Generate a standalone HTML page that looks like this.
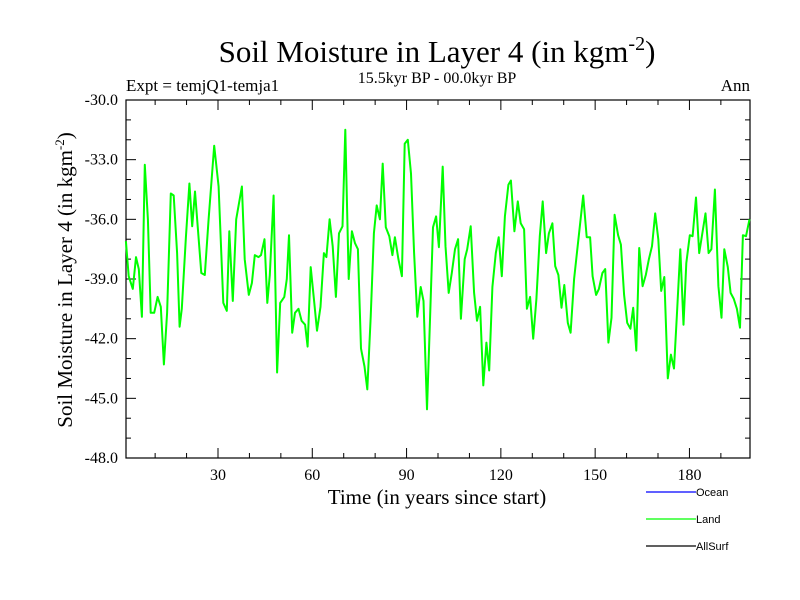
<!DOCTYPE html>
<html><head><meta charset="utf-8"><style>
body{margin:0;background:#fff}
svg{display:block}
text{font-family:"Liberation Serif",serif;fill:#000}
.lg{font-family:"Liberation Sans",sans-serif;font-size:11px}
</style></head><body>
<svg id="chart" width="800" height="600" viewBox="0 0 800 600">
<text x="437" y="62" font-size="31" text-anchor="middle">Soil Moisture in Layer 4 (in kgm<tspan font-size="20" dy="-12">-2</tspan><tspan dy="12">)</tspan></text>
<text x="437" y="83" font-size="16" text-anchor="middle">15.5kyr BP - 00.0kyr BP</text>
<text x="126" y="91" font-size="17">Expt = temjQ1-temja1</text>
<text x="750" y="91" font-size="17" text-anchor="end">Ann</text>
<text transform="translate(72,280) rotate(-90)" font-size="21" text-anchor="middle">Soil Moisture in Layer 4 (in kgm<tspan font-size="13" dy="-8">-2</tspan><tspan dy="8">)</tspan></text>
<text x="437" y="504" font-size="21" text-anchor="middle">Time (in years since start)</text>
<g id="axes"></g>
<g id="series"></g>
<g>
<line x1="646" y1="492" x2="696" y2="492" stroke="#0000ff" stroke-width="1.2"/>
<text class="lg" x="696" y="496">Ocean</text>
<line x1="646" y1="519" x2="696" y2="519" stroke="#00ff00" stroke-width="1.2"/>
<text class="lg" x="696" y="523">Land</text>
<line x1="646" y1="546" x2="696" y2="546" stroke="#000" stroke-width="1.2"/>
<text class="lg" x="696" y="550">AllSurf</text>
</g>
</svg>
<script>
const years = [0.7,1.6,2.9,3.9,4.8,5.8,6.7,7.7,8.6,9.7,10.8,11.8,12.8,13.8,15,15.9,17,17.8,18.5,19.8,20.9,21.8,22.7,24.7,25.8,27,28.8,30.2,31.7,32.8,33.6,34.7,35.8,37.6,38.5,39.8,40.8,41.7,42.9,43.7,44.8,45.7,46.5,47.7,48.8,49.8,51.1,51.9,52.6,53.6,54.5,55.6,56.6,57.7,58.5,59.5,60.5,61.5,62.6,63.7,64.5,65.5,66.5,67.5,68.5,69.6,70.5,71.6,72.6,73.6,74.5,75.5,76.6,77.5,78.6,79.6,80.5,81.5,82.4,83.4,84.5,85.5,86.3,87.4,88.5,89.4,90.4,91.4,92.4,93.4,94.5,95.4,96.5,97.5,98.4,99.4,100.3,101.5,102.4,103.4,104.4,105.4,106.4,107.3,108.5,109.3,110.4,111.5,112.4,113.4,114.4,115.4,116.3,117.3,118.4,119.3,120.3,121.3,122.4,123.2,124.3,125.4,126.3,127.4,128.3,129.3,130.3,131.3,132.4,133.3,134.4,135.3,136.4,137.3,138.3,139.3,140.2,141.3,142.2,143.3,144.2,146.2,147.3,148.4,149.2,150.3,151.2,152.3,153.2,154.2,155.2,156.2,157.3,158.2,159.2,160.2,161.2,162.1,163.1,164.0,165.1,166.1,167.1,168.1,169.1,170.1,171,172,173.1,174.1,175.1,176,177.1,178.1,179,180.1,181,182.1,183.1,185.1,186.1,187,188.1,189.2,190.2,191.1,192.2,193.1,194.1,195.1,196.1,197,198,199.1];
const landValues = [-37.1,-38.86,-39.5,-37.9,-38.5,-40.9,-33.26,-36.0,-40.7,-40.7,-39.9,-40.4,-43.3,-40.7,-34.7,-34.8,-37.7,-41.4,-40.5,-36.9,-34.2,-36.35,-34.6,-38.7,-38.8,-36.0,-32.3,-34.35,-40.2,-40.6,-36.6,-40.1,-36.0,-34.35,-38.0,-39.8,-39.2,-37.8,-37.9,-37.8,-37.0,-40.2,-38.8,-34.8,-43.7,-40.2,-39.9,-39.0,-36.8,-41.7,-40.7,-40.5,-41.1,-41.3,-42.4,-38.4,-40.0,-41.6,-40.4,-37.7,-37.9,-36.0,-37.35,-39.9,-36.7,-36.35,-31.5,-39.0,-36.6,-37.2,-37.5,-42.5,-43.4,-44.55,-40.9,-36.7,-35.3,-36.0,-33.2,-36.4,-36.85,-37.8,-36.9,-38.0,-38.86,-32.2,-32.0,-33.7,-37.7,-40.9,-39.4,-40.1,-45.55,-40.9,-36.4,-35.85,-37.4,-33.35,-37.35,-39.7,-38.7,-37.5,-37.0,-41.0,-38.0,-37.5,-36.35,-39.7,-41.1,-40.4,-44.35,-42.2,-43.6,-39.4,-37.7,-36.9,-38.86,-35.85,-34.26,-34.05,-36.6,-35.1,-36.2,-36.5,-40.5,-39.9,-42.0,-40.0,-36.85,-35.1,-37.7,-36.7,-36.2,-38.35,-38.8,-40.45,-39.3,-41.2,-41.7,-39.0,-37.7,-34.8,-36.9,-36.9,-38.86,-39.8,-39.5,-38.7,-38.5,-42.2,-40.95,-35.77,-36.8,-37.27,-39.8,-41.2,-41.5,-40.45,-42.6,-37.44,-39.36,-38.8,-38.0,-37.35,-35.7,-37.0,-39.6,-38.9,-44.0,-42.8,-43.5,-40.8,-37.5,-41.3,-38.2,-36.8,-36.85,-34.9,-37.7,-35.7,-37.7,-37.5,-34.5,-39.36,-40.95,-37.5,-38.4,-39.7,-40.0,-40.5,-41.45,-36.8,-36.85,-36.0];
const yTicks = [-30,-33,-36,-39,-42,-45,-48];
const yTickLabels = ["-30.0","-33.0","-36.0","-39.0","-42.0","-45.0","-48.0"];
const xTicks = [30,60,90,120,150,180];
const xTickLabels = ["30","60","90","120","150","180"];

const L=126,R=750,T=100,B=458;
const xs = v => 123.7 + v*3.143;
const ys = v => T + (-30 - v)*(B-T)/18;
const NS="http://www.w3.org/2000/svg";
const axes=document.getElementById('axes');
function mk(tag,attrs,parent){const e=document.createElementNS(NS,tag);for(const k in attrs)e.setAttribute(k,attrs[k]);parent.appendChild(e);return e;}
const frame=mk('rect',{x:L,y:T,width:R-L,height:B-T,fill:'none',stroke:'#000','stroke-width':1.2},axes);


// y minor ticks every 1
for(let v=-30;v>=-48;v--){
  const major=(v%3===0);const len=major?10:5;const y=ys(v);
  const t1=mk('line',{x1:L,y1:y,x2:L+len,y2:y,stroke:'#000','stroke-width':1},axes);
  
  
  const t2=mk('line',{x1:R,y1:y,x2:R-len,y2:y,stroke:'#000','stroke-width':1},axes);
  
  
}
yTicks.forEach((v,i)=>{
  const t=mk('text',{x:L-8,y:ys(v)+5,'font-size':16,'text-anchor':'end'},axes);
  t.textContent=yTickLabels[i];
  
  
});
for(let v=10;v<200;v+=10){
  const major=(v%30===0);const len=major?10:5;const x=xs(v);
  const t1=mk('line',{x1:x,y1:B,x2:x,y2:B-len,stroke:'#000','stroke-width':1},axes);
  
  
  const t2=mk('line',{x1:x,y1:T,x2:x,y2:T+len,stroke:'#000','stroke-width':1},axes);
  
  
}
xTicks.forEach((v,i)=>{
  const t=mk('text',{x:xs(v),y:B+22,'font-size':16,'text-anchor':'middle'},axes);
  t.textContent=xTickLabels[i];
  
  
});
const pts=years.map((y,i)=>xs(y).toFixed(1)+','+ys(landValues[i]).toFixed(1)).join(' ');
const line=mk('polyline',{points:pts,fill:'none',stroke:'#00ff00','stroke-width':2,'stroke-linejoin':'round'},document.getElementById('series'));


</script>
</body></html>
